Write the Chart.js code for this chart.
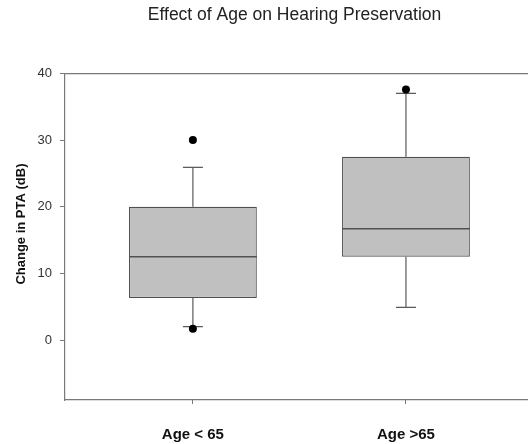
<!DOCTYPE html>
<html>
<head>
<meta charset="utf-8">
<script src="https://cdn.jsdelivr.net/npm/chart.js@4.4.1/dist/chart.umd.min.js"></script>
<style>
  html, body { margin: 0; padding: 0; background: #fff; overflow: hidden; }
  #wrap { width: 528px; height: 444px; position: relative; }
</style>
</head>
<body>
<div id="wrap"><canvas id="c"></canvas></div>
<script>
// Change in PTA (dB) by age group: box-plot summary values
const categories = ['Age < 65', 'Age >65'];
const lowerWhisker = [2.0, 4.9];
const quartile1 = [6.3, 12.5];
const medians = [12.5, 16.7];
const quartile3 = [20.0, 27.5];
const upperWhisker = [25.9, 37.0];
const outliers = [[30.0, 1.7], [37.6]];
const yTicks = [0, 10, 20, 30, 40];

// each group sits at x = 1, 2, ... on a linear axis
const positions = categories.map((_, i) => i + 1);

const FONT = '"Liberation Sans", Arial, Helvetica, sans-serif';
const LINE = '#5a5a5a';
const AXIS = '#7a7a7a';
const AXIS_WIDTH = 1.2;

// whiskers, caps, medians and the top/bottom frame edges that run off the right side
const boxPlotParts = {
  id: 'boxPlotParts',
  beforeDatasetsDraw(chart) {
    const { ctx, scales: { x, y } } = chart;
    ctx.save();
    ctx.strokeStyle = LINE;
    ctx.lineWidth = 1.2;
    positions.forEach((p, i) => {
      const cx = x.getPixelForValue(p);
      const capHalf = 10;
      [[quartile3[i], upperWhisker[i]], [quartile1[i], lowerWhisker[i]]].forEach(([from, to]) => {
        const y0 = y.getPixelForValue(from);
        const y1 = y.getPixelForValue(to);
        ctx.beginPath();
        ctx.moveTo(cx, y0);
        ctx.lineTo(cx, y1);
        ctx.moveTo(cx - capHalf, y1);
        ctx.lineTo(cx + capHalf, y1);
        ctx.stroke();
      });
    });
    ctx.restore();
  },
  afterDatasetsDraw(chart) {
    const { ctx, chartArea, scales: { y } } = chart;
    const meta = chart.getDatasetMeta(0);
    ctx.save();
    ctx.strokeStyle = '#505050';
    ctx.lineWidth = 1.4;
    meta.data.forEach((bar, i) => {
      const ym = y.getPixelForValue(medians[i]);
      ctx.beginPath();
      ctx.moveTo(bar.x - bar.width / 2, ym);
      ctx.lineTo(bar.x + bar.width / 2, ym);
      ctx.stroke();
    });
    const half = AXIS_WIDTH / 2;
    const align = v => Math.round(v - half) + half;
    ctx.strokeStyle = AXIS;
    ctx.lineWidth = AXIS_WIDTH;
    ctx.lineCap = 'butt';
    ctx.beginPath();
    ctx.moveTo(chartArea.left, align(chartArea.top));
    ctx.lineTo(chart.width, align(chartArea.top));
    ctx.moveTo(chartArea.left - half, align(chartArea.bottom));
    ctx.lineTo(chart.width, align(chartArea.bottom));
    ctx.stroke();
    ctx.restore();
  }
};

const boxData = positions.map((p, i) => ({ x: p, y: [quartile1[i], quartile3[i]] }));
const outlierData = positions.flatMap((p, i) => outliers[i].map(v => ({ x: p, y: v })));

new Chart(document.getElementById('c'), {
  type: 'bar',
  data: {
    datasets: [
      {
        type: 'bar',
        data: boxData,
        backgroundColor: '#c0c0c0',
        borderColor: '#505050',
        borderWidth: 1.2,
        borderSkipped: false,
        barPercentage: 0.6,
        categoryPercentage: 1.0,
        order: 1
      },
      {
        type: 'scatter',
        data: outlierData,
        pointRadius: 4,
        pointBackgroundColor: '#000',
        pointBorderWidth: 0,
        showLine: false,
        order: 0
      }
    ]
  },
  options: {
    responsive: true,
    maintainAspectRatio: false,
    animation: false,
    layout: { padding: { left: 10, right: -4, top: 0, bottom: -22 } },
    plugins: {
      legend: { display: false },
      tooltip: { enabled: false },
      title: {
        display: true,
        text: 'Effect of Age on Hearing Preservation',
        fullSize: false,
        color: '#222',
        font: { family: FONT, size: 17.5, weight: 'normal' },
        padding: { top: 5, bottom: 47.4 }
      }
    },
    scales: {
      x: {
        type: 'linear',
        offset: false,
        min: 0.4,
        max: 2.554,
        afterBuildTicks(scale) { scale.ticks = positions.map(v => ({ value: v })); },
        ticks: {
          callback: v => categories[positions.indexOf(v)] || '',
          color: '#111',
          font: { family: FONT, size: 15, weight: 'bold' },
          padding: 22,
          maxRotation: 0,
          autoSkip: false
        },
        grid: { offset: false, drawOnChartArea: false, drawTicks: true, tickLength: 4, color: AXIS, lineWidth: 1 },
        border: { display: false }
      },
      y: {
        type: 'linear',
        min: -9,
        max: 40,
        afterBuildTicks(scale) { scale.ticks = yTicks.map(v => ({ value: v })); },
        ticks: {
          color: '#333',
          font: { family: FONT, size: 13 },
          padding: 8
        },
        grid: { drawOnChartArea: false, drawTicks: true, tickLength: 5, color: AXIS, lineWidth: 1 },
        border: { display: true, color: AXIS, width: AXIS_WIDTH },
        title: {
          display: true,
          text: '       Change in PTA (dB)',
          color: '#111',
          font: { family: FONT, size: 13, weight: 'bold' },
          padding: { top: 4, bottom: 0 }
        }
      }
    }
  },
  plugins: [boxPlotParts]
});
</script>
</body>
</html>
